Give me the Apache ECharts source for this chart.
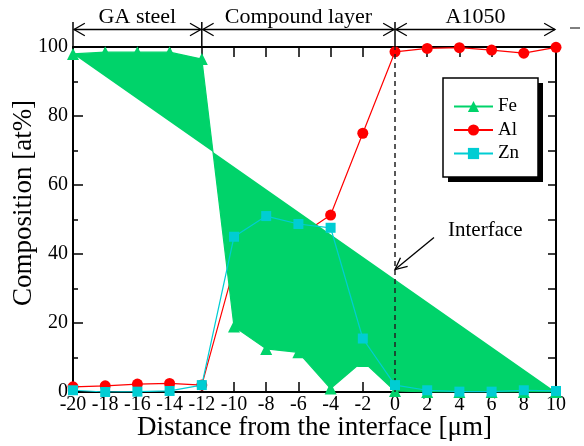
<!DOCTYPE html>
<html>
<head>
<meta charset="utf-8">
<script src="https://cdn.jsdelivr.net/npm/echarts@6/dist/echarts.min.js"></script>
<style>html,body{margin:0;padding:0;background:#fff;}#c{width:584px;height:446px;}</style>
</head>
<body>
<div id="c"></div>
<script>
// ---- data ----
const distance = [-20, -18, -16, -14, -12, -10, -8, -6, -4, -2, 0, 2, 4, 6, 8, 10];
const fe = [98, 98.5, 98.5, 98.5, 96.5, 19, 12.5, 11.5, 1, 9, 0.3, 0, 0, 0, 0, 0];
const al = [1.5, 1.8, 2.3, 2.5, 2, 36, 41, 45, 51.3, 75, 98.6, 99.6, 99.8, 99.1, 98.2, 99.9];
const zn = [0.5, 0, 0.1, 0.3, 2, 45, 51, 48.7, 47.6, 15.5, 2, 0.5, 0.1, 0.1, 0.5, 0.3];
const seriesNames = ['Fe', 'Al', 'Zn'];
const regions = [
  {name: 'GA steel', from: -20, to: -12},
  {name: 'Compound layer', from: -12, to: 0},
  {name: 'A1050', from: 0, to: 10}
];
const xTitle = 'Distance from the interface [\u03bcm]';
const yTitle = 'Composition [at%]';
const interfaceLabel = 'Interface';

const FONT = "'Liberation Serif','Times New Roman',serif";
const FE_C = '#00d36a', AL_C = '#ff0000', ZN_C = '#00cdd3';

const chart = echarts.init(document.getElementById('c'), null, {renderer: 'canvas'});
const pair = arr => distance.map((x, i) => [x, arr[i]]);

const axLine = {show: true, onZero: false, lineStyle: {color: '#000', width: 2}};
const tickStyle = {color: '#000', width: 1.5};

const option = {
  animation: false,
  backgroundColor: '#fff',
  grid: {left: 73, right: 28, top: 47, bottom: 54, containLabel: false},
  xAxis: [
    {type: 'value', min: -20, max: 10, interval: 2, position: 'bottom',
     axisLine: axLine, axisTick: {inside: true, length: 10, lineStyle: tickStyle},
     axisLabel: {fontSize: 20, fontFamily: FONT, color: '#000', margin: 3, formatter: v => String(v)},
     splitLine: {show: false}},
    {type: 'value', min: -20, max: 10, interval: 2, position: 'top',
     axisLine: axLine, axisTick: {inside: true, length: 10, lineStyle: tickStyle},
     axisLabel: {show: false}, splitLine: {show: false}}
  ],
  yAxis: [
    {type: 'value', min: 0, max: 100, interval: 20, position: 'left',
     axisLine: axLine, axisTick: {inside: true, length: 10, lineStyle: tickStyle},
     minorTick: {show: true, splitNumber: 2, length: 5, lineStyle: tickStyle},
     axisLabel: {fontSize: 20, fontFamily: FONT, color: '#000', margin: 5},
     splitLine: {show: false}, minorSplitLine: {show: false}},
    {type: 'value', min: 0, max: 100, interval: 20, position: 'right',
     axisLine: axLine, axisTick: {inside: true, length: 8, lineStyle: tickStyle},
     minorTick: {show: true, splitNumber: 2, length: 8, lineStyle: tickStyle},
     axisLabel: {show: false}, splitLine: {show: false}, minorSplitLine: {show: false}}
  ],
  legend: {
    orient: 'vertical', left: 453, top: 97, padding: 0,
    itemWidth: 39, itemHeight: 14, itemGap: 4.5,
    data: seriesNames,
    textStyle: {fontSize: 19, fontFamily: FONT, color: '#000', padding: [0, 0, 0, 0]},
    z: 10
  },
  series: [
    {type: 'line', name: 'Al', data: pair(al), symbol: 'circle', symbolSize: 11,
     itemStyle: {color: AL_C}, lineStyle: {color: AL_C, width: 1.2}, z: 2, silent: true},
    {type: 'custom', name: 'FeArea', data: pair(fe), z: 3, silent: true,
     renderItem: (params, api) => {
       if (params.dataIndex !== 0) return null;
       const pts = distance.map((x, i) => api.coord([x, fe[i]]));
       return {type: 'polygon', shape: {points: pts}, style: {fill: FE_C}};
     }},
    {type: 'line', name: 'Fe', data: pair(fe), symbol: 'triangle', symbolSize: 12,
     itemStyle: {color: FE_C}, lineStyle: {color: FE_C, width: 1.2}, z: 4, silent: true},
    {type: 'line', name: 'Zn', data: pair(zn), symbol: 'rect', symbolSize: 10,
     itemStyle: {color: ZN_C}, lineStyle: {color: ZN_C, width: 1.2}, z: 5, silent: true,
     markLine: {silent: true, symbol: 'none', animation: false,
       lineStyle: {type: [5, 4], color: '#222', width: 1.5},
       label: {show: false}, data: [{xAxis: 0}]}}
  ]
};
chart.setOption(option);

// ---- annotations placed through the axis scales ----
const P = (x, y) => chart.convertToPixel({xAxisIndex: 0, yAxisIndex: 0}, [x, y]);
const gTop = P(0, 100)[1];
const arrowY = gTop - 17.5;
const barTop = gTop - 25;
const els = [];

function chevron(tx, ty, dx, dy, len, ang) {
  const c = Math.cos(ang), s = Math.sin(ang);
  const l1 = [tx + len * (dx * c - dy * s), ty + len * (dx * s + dy * c)];
  const l2 = [tx + len * (dx * c + dy * s), ty + len * (-dx * s + dy * c)];
  return {type: 'polyline', shape: {points: [l1, [tx, ty], l2]},
          style: {stroke: '#000', lineWidth: 1.3, fill: null}, z: 20};
}

// legend box with shadow
els.push({type: 'rect', shape: {x: 448, y: 83, width: 95, height: 99}, style: {fill: '#000'}, z: 5});
els.push({type: 'rect', shape: {x: 443, y: 78, width: 95, height: 99}, style: {fill: '#fff', stroke: '#000', lineWidth: 1.5}, z: 6});

[-20, -12, 0].forEach(x => {
  const px = P(x, 0)[0];
  els.push({type: 'line', shape: {x1: px, y1: barTop, x2: px, y2: gTop}, style: {stroke: '#000', lineWidth: 1.5}, z: 20});
});
regions.forEach(r => {
  const x1 = P(r.from, 0)[0] + 1, x2 = P(r.to, 0)[0] - 1;
  els.push({type: 'line', shape: {x1: x1, y1: arrowY, x2: x2, y2: arrowY}, style: {stroke: '#000', lineWidth: 1.3}, z: 20});
  els.push(chevron(x1, arrowY, 1, 0, 12.5, Math.PI / 6));
  els.push(chevron(x2, arrowY, -1, 0, 12.5, Math.PI / 6));
  els.push({type: 'text', x: (x1 + x2) / 2, y: arrowY - 12,
    style: {text: r.name, font: '22px ' + FONT, fill: '#000', textAlign: 'center', textVerticalAlign: 'middle'}, z: 20});
});
// stray dash at top right
els.push({type: 'line', shape: {x1: 570, y1: 28, x2: 580, y2: 28}, style: {stroke: '#000', lineWidth: 1}, z: 20});

// Interface arrow
const tip = P(0, 35.5);
const st = [tip[0] + 39, tip[1] - 32];
const dl = Math.hypot(st[0] - tip[0], st[1] - tip[1]);
const ux = (st[0] - tip[0]) / dl, uy = (st[1] - tip[1]) / dl;
els.push({type: 'line', shape: {x1: tip[0], y1: tip[1], x2: st[0], y2: st[1]}, style: {stroke: '#000', lineWidth: 1.3}, z: 20});
els.push(chevron(tip[0], tip[1], ux, uy, 13, Math.PI / 7));
els.push({type: 'text', x: tip[0] + 53, y: tip[1] - 39,
  style: {text: interfaceLabel, font: '21px ' + FONT, fill: '#000', textAlign: 'left', textVerticalAlign: 'middle'}, z: 20});

// axis titles
const gx1 = P(-20, 0)[0], gx2 = P(10, 0)[0];
els.push({type: 'text', x: (gx1 + gx2) / 2, y: 428,
  style: {text: xTitle, font: '27px ' + FONT, fill: '#000', textAlign: 'center', textVerticalAlign: 'middle'}, z: 20});
els.push({type: 'text', x: 24, y: 203, rotation: Math.PI / 2,
  style: {text: yTitle, font: '27px ' + FONT, fill: '#000', textAlign: 'center', textVerticalAlign: 'middle'}, z: 20});

chart.setOption({graphic: {elements: els}});
</script>
</body>
</html>
